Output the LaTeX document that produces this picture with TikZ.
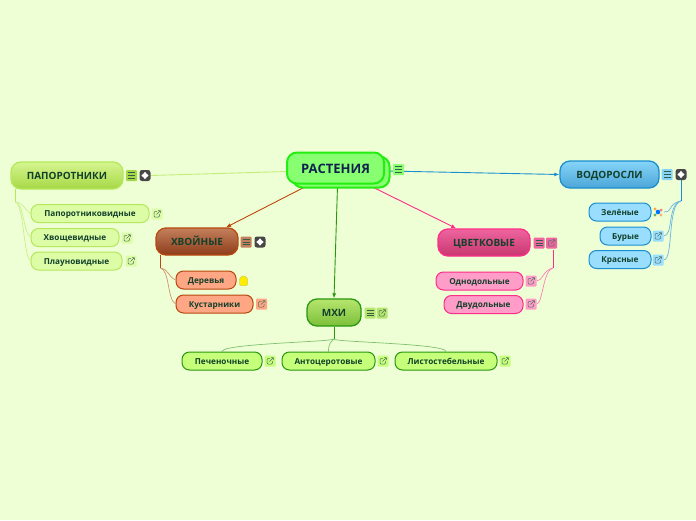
\documentclass[tikz,border=0pt]{standalone}
\usepackage{fontspec}
\setmainfont{Open Sans}
\usetikzlibrary{arrows.meta, backgrounds}
\definecolor{bgcol}{HTML}{EEFFD5}
\definecolor{inkcol}{HTML}{12402A}
\tikzset{
topic/.style={draw, line width=1.3pt, rounded corners=10pt, minimum height=27pt, inner sep=0pt, text height=9.5pt, text depth=1.5pt, font=\fontsize{10}{12}\selectfont\bfseries, text=inkcol},
leaf/.style={draw, line width=1pt, rounded corners=7.5pt, minimum height=18pt, inner sep=0pt, text height=7.5pt, text depth=1.5pt, font=\fontsize{8.2}{10}\selectfont\bfseries, text=inkcol},
rootbox/.style={draw=rootD, fill=rootF, line width=2pt, rounded corners=10pt, minimum width=97pt, minimum height=31pt, inner sep=0pt, text height=11pt, text depth=1pt, font=\fontsize{13}{15}\selectfont\bfseries, text=rootT},
iconbox/.style={minimum width=11pt, minimum height=11pt, inner sep=0pt, rounded corners=1pt},
notemark/.style={iconbox, path picture={
  \draw[inkcol!85, line width=.7pt, shift={(path picture bounding box.center)}] (-3.5,-2.8) -- (3.5,-2.8) (-3.5,0) -- (3.5,0) (-3.5,2.8) -- (3.5,2.8);}},
linkmark/.style={iconbox, path picture={
  \draw[inkcol!75, line width=.5pt, shift={(path picture bounding box.center)}] (0,-2.5) -- (-3,-2.5) -- (-3,3) -- (2.5,3) -- (2.5,0) (-.5,.5) -- (3.5,-3.5) (1,-3.5) -- (3.5,-3.5) -- (3.5,-1);}},
plusmark/.style={iconbox, fill=black!72, rounded corners=2.5pt, path picture={
  \fill[white, shift={(path picture bounding box.center)}] (0,-4.5) -- (1.2,-1.2) -- (4.5,0) -- (1.2,1.2) -- (0,4.5) -- (-1.2,1.2) -- (-4.5,0) -- (-1.2,-1.2) -- cycle;}},
pentmark/.style={iconbox, fill=bgcol, path picture={
  \fill[yellow!95!orange, draw=yellow!70!black, line width=.3pt, shift={(path picture bounding box.center)}] (0,-5) -- (4,-2.2) -- (4,5) -- (-4,5) -- (-4,-2.2) -- cycle;}},
picmark/.style={iconbox, fill=bgcol, path picture={
  \begin{scope}[shift={(path picture bounding box.center)}]
  \fill[orange!70] (-3,-3) circle (1.6pt); \fill[red!55] (3,-2) circle (1.5pt);
  \fill[green!50!black!60] (-3,3) circle (1.6pt); \fill[orange!60] (3,3) circle (1.6pt);
  \fill[blue!55!cyan] (0,0) circle (2.3pt);
  \end{scope}}},
% one colour set per branch
fernT/.style={topic, draw=fernD, top color=fernA, bottom color=fernB},
fernL/.style={leaf, draw=fernD, fill=fernC},
algaT/.style={topic, draw=algaD, top color=algaA, bottom color=algaB},
algaL/.style={leaf, draw=algaD, fill=algaC},
pineT/.style={topic, draw=pineD, top color=pineA, bottom color=pineB},
pineL/.style={leaf, draw=pineD, fill=pineC},
flowT/.style={topic, draw=flowD, top color=flowA, bottom color=flowB},
flowL/.style={leaf, draw=flowD, fill=flowC},
mossT/.style={topic, draw=mossD, top color=mossA, bottom color=mossB},
mossL/.style={leaf, draw=mossD, fill=mossC},
main/.style={line width=.9pt},
tip/.style={main, -{Latex[length=5pt,width=4pt]}},
twig/.style={line width=.7pt},
}
\definecolor{fernA}{HTML}{D6F590}\definecolor{fernB}{HTML}{A6D845}\definecolor{fernC}{HTML}{DDFCA6}\definecolor{fernD}{HTML}{B5E85A}
\definecolor{algaA}{HTML}{86D4F8}\definecolor{algaB}{HTML}{4CA6D8}\definecolor{algaC}{HTML}{99DDFF}\definecolor{algaD}{HTML}{1A8FD0}
\definecolor{pineA}{HTML}{C4805C}\definecolor{pineB}{HTML}{8E3C1A}\definecolor{pineC}{HTML}{FFA685}\definecolor{pineD}{HTML}{B8480E}
\definecolor{flowA}{HTML}{EE659F}\definecolor{flowB}{HTML}{C8366F}\definecolor{flowC}{HTML}{FF9CC8}\definecolor{flowD}{HTML}{FF2D8A}
\definecolor{mossA}{HTML}{B6E56E}\definecolor{mossB}{HTML}{7CC03A}\definecolor{mossC}{HTML}{C6FF7A}\definecolor{mossD}{HTML}{2A980F}
\definecolor{rootF}{HTML}{88FF70}\definecolor{rootD}{HTML}{22EE11}\definecolor{rootT}{HTML}{10204F}
\begin{document}
\begin{tikzpicture}[x=1pt,y=-1pt]
\useasboundingbox (0,0) rectangle (696,520);
\coordinate (rootc) at (338,170);
% root, two sheets
\node[rootbox] (rootB) at (341,172) {};
\node[rootbox] (root) at (335.5,168) {РАСТЕНИЯ};
\node[notemark, fill=rootF] (rootN) at (398.5,169.5) {};
% topics and their icons
\node[fernT, minimum width=112pt] (fern) at (67,175.5) {ПАПОРОТНИКИ};
\node[notemark, fill=fernB] (fernN) at (131.5,175.5) {};
\node[plusmark] (fernP) at (145,175.5) {};
\node[algaT, minimum width=99pt] (alga) at (609.5,174.5) {ВОДОРОСЛИ};
\node[notemark, fill=algaA] (algaN) at (667,174.5) {};
\node[plusmark] (algaP) at (681,174.5) {};
\node[pineT, minimum width=82pt] (pine) at (197,241.5) {ХВОЙНЫЕ};
\node[notemark, fill=pineA] (pineN) at (246,242) {};
\node[plusmark] (pineP) at (260,242) {};
\node[flowT, minimum width=92pt] (flow) at (484,242.5) {ЦВЕТКОВЫЕ};
\node[notemark, fill=flowA] (flowN) at (539,243) {};
\node[linkmark, fill=flowA] (flowK) at (551.5,243) {};
\node[mossT, minimum width=54pt] (moss) at (334,312.5) {МХИ};
\node[notemark, fill=mossA] (mossN) at (370,313) {};
\node[linkmark, fill=mossA] (mossK) at (382,313) {};
% leaves
\node[fernL, minimum width=118pt] (fern1) at (90,213.5) {Папоротниковидные};
\node[linkmark, fill=fernC] (fern1K) at (157,214) {};
\node[fernL, minimum width=88pt] (fern2) at (75,237.5) {Хвощевидные};
\node[linkmark, fill=fernC] (fern2K) at (127,238) {};
\node[fernL, minimum width=91pt] (fern3) at (76.5,261) {Плауновидные};
\node[linkmark, fill=fernC] (fern3K) at (131,261) {};
\node[algaL, minimum width=62pt] (alga1) at (620,212) {Зелёные};
\node[picmark] (alga1K) at (658,212) {};
\node[algaL, minimum width=51pt] (alga2) at (625.5,236) {Бурые};
\node[linkmark, fill=algaC] (alga2K) at (658,236) {};
\node[algaL, minimum width=62pt] (alga3) at (620,259.5) {Красные};
\node[linkmark, fill=algaC] (alga3K) at (658,260) {};
\node[pineL, minimum width=60pt] (pine1) at (206,280) {Деревья};
\node[pentmark] (pine1K) at (243.5,280.5) {};
\node[pineL, minimum width=77pt] (pine2) at (214.5,304) {Кустарники};
\node[linkmark, fill=pineC] (pine2K) at (261.5,304) {};
\node[flowL, minimum width=87pt] (flow1) at (479.5,281) {Однодольные};
\node[linkmark, fill=flowC] (flow1K) at (531,281) {};
\node[flowL, minimum width=79pt] (flow2) at (483.5,304.5) {Двудольные};
\node[linkmark, fill=flowC] (flow2K) at (531,304) {};
\node[mossL, minimum width=80pt] (moss1) at (222,361) {Печеночные};
\node[linkmark, fill=mossC] (moss1K) at (270,361) {};
\node[mossL, minimum width=93pt] (moss2) at (328.5,361) {Антоцеротовые};
\node[linkmark, fill=mossC] (moss2K) at (383,361) {};
\node[mossL, minimum width=102pt] (moss3) at (446,361) {Листостебельные};
\node[linkmark, fill=mossC] (moss3K) at (505,361) {};
% forks under the topics
\coordinate (fernS) at (15.5,189);
\coordinate (fernH) at (15.5,202);
\coordinate (algaH) at (681,201);
\coordinate (pineS) at (160.5,255);
\coordinate (pineH) at (160.5,268);
\coordinate (flowS) at (553,250);
\coordinate (flowH) at (553,268);
\coordinate (mossH) at (334,339);
\begin{scope}[on background layer]
\fill[bgcol] (0,0) rectangle (696,520);
\draw[main, fernD!80] (rootc) -- (fernP.east);
\draw[tip, algaD] (rootc) -- (alga.west);
\draw[tip, pineD] (rootc) -- (pine.26);
\draw[tip, flowD] (rootc) -- (flow.153);
\draw[tip, mossD] (rootc) -- (moss.north);
\draw[twig, fernD] (fernS) -- (fernH);
\foreach \n in {fern1,fern2,fern3}
  \draw[twig, fernD!70] (fernH) .. controls +(8,1) and +(-7,-5) .. (\n.west);
\draw[twig, algaD] (algaP.south) -- (algaH);
\foreach \n in {alga1K,alga2K,alga3K}
  \draw[twig, algaD!65] (algaH) .. controls +(-14,3) and +(10,0) .. (\n.east);
\draw[twig, pineD] (pineS) -- (pineH);
\foreach \n in {pine1,pine2}
  \draw[twig, pineD!60] (pineH) .. controls +(9,2) and +(-8,-4) .. (\n.west);
\draw[twig, flowD] (flowS) -- (flowH);
\foreach \n in {flow1K,flow2K}
  \draw[twig, flowD!60] (flowH) .. controls +(-10,2) and +(6,0) .. (\n.east);
\draw[twig, mossD] (moss.south) -- (mossH);
\foreach \n in {moss1,moss2,moss3}
  \draw[twig, mossD!60] (mossH) .. controls +(-3,3) and +(0,-8) .. (\n.north);
\end{scope}
\end{tikzpicture}
\end{document}
